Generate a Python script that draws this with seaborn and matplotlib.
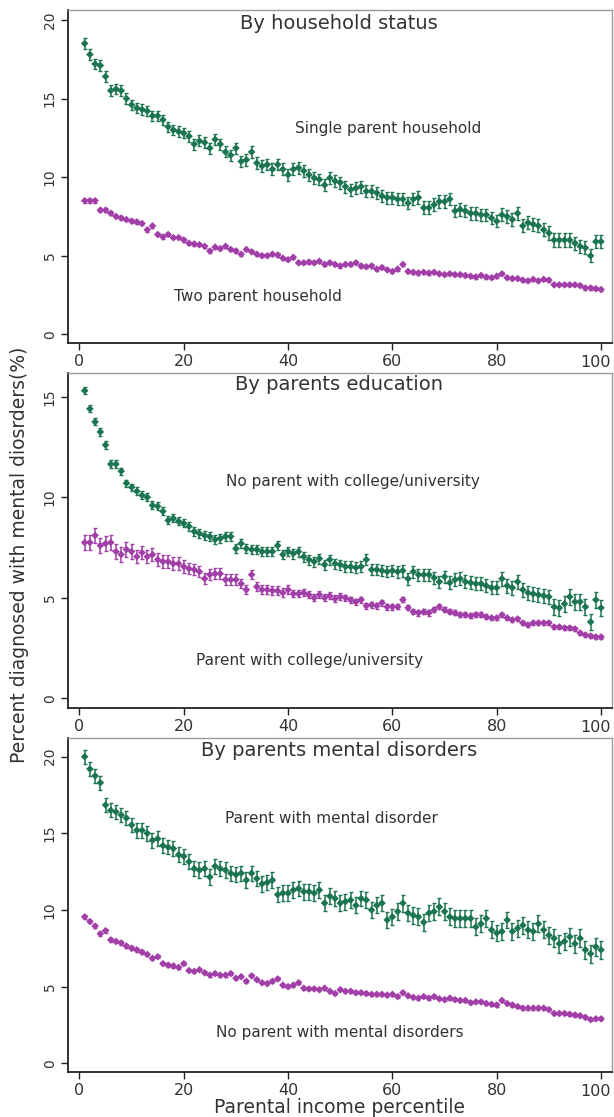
import numpy as np
import pandas as pd
import matplotlib
matplotlib.use("Agg")
import matplotlib.pyplot as plt
import seaborn as sns

sns.set_theme(style="white")
plt.rcParams['font.family'] = ['DejaVu Sans']

percentile = list(range(1, 101))

# Panel 1: by household status
single_parent = [18.5, 17.8, 17.2, 17.1, 16.4, 15.5, 15.6, 15.5, 15.0, 14.6,
                 14.4, 14.3, 14.2, 13.9, 13.9, 13.65, 13.2, 13.0, 12.9, 12.8,
                 12.6, 12.1, 12.3, 12.2, 11.85, 12.4, 12.1, 11.6, 11.4, 11.85,
                 11.0, 11.1, 11.6, 10.9, 10.7, 10.8, 10.5, 10.8, 10.5, 10.15,
                 10.5, 10.6, 10.4, 10.15, 9.95, 9.85, 9.5, 9.95, 9.75, 9.65,
                 9.4, 9.2, 9.3, 9.4, 9.1, 9.1, 9.0, 8.8, 8.7, 8.7,
                 8.6, 8.6, 8.35, 8.6, 8.7, 8.05, 8.05, 8.25, 8.45, 8.45,
                 8.6, 7.85, 7.95, 7.85, 7.7, 7.7, 7.6, 7.6, 7.4, 7.2,
                 7.6, 7.5, 7.3, 7.7, 6.9, 7.1, 7.0, 6.9, 6.65, 6.45,
                 6.0, 6.0, 6.0, 6.0, 5.8, 5.6, 5.5, 5.0, 5.9, 5.9]
two_parent = [8.5, 8.5, 8.5, 7.9, 7.9, 7.7, 7.5, 7.4, 7.3, 7.2,
              7.15, 7.05, 6.65, 6.9, 6.35, 6.2, 6.35, 6.15, 6.15, 6.0,
              5.8, 5.75, 5.7, 5.6, 5.3, 5.55, 5.45, 5.6, 5.4, 5.3,
              5.1, 5.4, 5.25, 5.1, 5.0, 5.0, 5.1, 5.05, 4.85, 4.75,
              4.9, 4.55, 4.55, 4.6, 4.55, 4.65, 4.45, 4.55, 4.45, 4.35,
              4.45, 4.45, 4.55, 4.35, 4.3, 4.35, 4.15, 4.25, 4.1, 4.0,
              4.15, 4.45, 4.0, 3.95, 3.9, 3.95, 3.9, 3.95, 3.85, 3.8,
              3.85, 3.8, 3.8, 3.75, 3.7, 3.65, 3.75, 3.65, 3.6, 3.7,
              3.85, 3.6, 3.55, 3.55, 3.45, 3.4, 3.5, 3.4, 3.5, 3.45,
              3.15, 3.15, 3.15, 3.15, 3.15, 3.1, 2.95, 2.95, 2.9, 2.85]

# Panel 2: by parents education
no_college = [15.3, 14.4, 13.75, 13.25, 12.6, 11.65, 11.65, 11.3, 10.7, 10.5,
              10.3, 10.1, 10.0, 9.6, 9.55, 9.3, 8.85, 8.95, 8.8, 8.7,
              8.55, 8.3, 8.2, 8.1, 8.05, 7.9, 7.95, 8.05, 8.05, 7.45,
              7.7, 7.45, 7.4, 7.4, 7.3, 7.3, 7.3, 7.6, 7.15, 7.3,
              7.2, 7.3, 7.05, 6.9, 6.8, 6.95, 6.65, 6.9, 6.7, 6.65,
              6.55, 6.55, 6.5, 6.55, 6.9, 6.4, 6.4, 6.35, 6.3, 6.35,
              6.3, 6.35, 5.95, 6.3, 6.15, 6.15, 6.15, 6.0, 5.8, 6.05,
              5.75, 5.9, 5.95, 5.8, 5.75, 5.7, 5.7, 5.6, 5.5, 5.5,
              5.95, 5.6, 5.5, 5.8, 5.4, 5.25, 5.2, 5.15, 5.1, 5.05,
              4.55, 4.5, 4.7, 5.05, 4.8, 4.8, 4.55, 3.8, 4.9, 4.5]
college = [7.75, 7.75, 8.1, 7.6, 7.7, 7.75, 7.3, 7.15, 7.4, 7.3,
           7.05, 7.25, 7.05, 7.15, 6.9, 6.8, 6.8, 6.7, 6.7, 6.55,
           6.45, 6.4, 6.3, 5.95, 6.15, 6.2, 6.2, 5.9, 5.9, 5.9,
           5.7, 5.4, 6.15, 5.55, 5.4, 5.4, 5.35, 5.35, 5.25, 5.4,
           5.2, 5.2, 5.25, 5.15, 5.0, 5.15, 5.0, 5.1, 4.95, 5.05,
           5.0, 4.9, 4.8, 4.9, 4.6, 4.65, 4.6, 4.75, 4.55, 4.55,
           4.55, 4.9, 4.5, 4.3, 4.25, 4.3, 4.25, 4.4, 4.55, 4.4,
           4.3, 4.25, 4.15, 4.15, 4.1, 4.15, 4.15, 4.05, 4.0, 4.0,
           4.15, 4.0, 3.9, 3.95, 3.75, 3.65, 3.75, 3.75, 3.75, 3.75,
           3.55, 3.55, 3.5, 3.5, 3.45, 3.25, 3.15, 3.1, 3.05, 3.05]

# Panel 3: by parents mental disorders
parent_md = [20.0, 19.2, 18.75, 18.3, 16.85, 16.5, 16.4, 16.2, 16.0, 15.55,
             15.2, 15.2, 15.0, 14.55, 14.65, 14.2, 14.1, 14.0, 13.6, 13.5,
             13.15, 12.7, 12.6, 12.7, 12.15, 12.85, 12.7, 12.6, 12.4, 12.3,
             12.4, 11.95, 12.4, 12.05, 11.7, 11.8, 11.95, 11.0, 11.1, 11.1,
             11.3, 11.4, 11.2, 11.2, 11.1, 11.3, 10.45, 10.9, 10.75, 10.45,
             10.55, 10.65, 10.3, 10.75, 10.65, 10.0, 10.3, 10.45, 9.35, 9.55,
             9.9, 10.45, 9.8, 9.65, 9.55, 9.2, 9.8, 9.9, 10.2, 9.9,
             9.55, 9.45, 9.45, 9.45, 9.45, 8.9, 9.1, 9.45, 8.7, 8.5,
             8.6, 9.35, 8.6, 8.8, 9.0, 8.7, 8.6, 9.1, 8.7, 8.35,
             8.15, 7.8, 7.95, 8.25, 7.8, 8.15, 7.4, 7.15, 7.6, 7.4]
no_parent_md = [9.55, 9.25, 8.95, 8.45, 8.65, 8.05, 7.95, 7.85, 7.65, 7.5,
                7.4, 7.25, 7.1, 6.85, 6.95, 6.5, 6.4, 6.35, 6.25, 6.5,
                6.05, 6.0, 6.1, 5.9, 5.75, 5.85, 5.75, 5.75, 5.85, 5.55,
                5.65, 5.35, 5.7, 5.45, 5.25, 5.2, 5.35, 5.5, 5.1, 5.0,
                5.1, 5.25, 4.9, 4.85, 4.85, 4.8, 4.9, 4.7, 4.55, 4.8,
                4.7, 4.7, 4.6, 4.6, 4.55, 4.5, 4.5, 4.5, 4.45, 4.5,
                4.35, 4.6, 4.4, 4.3, 4.25, 4.35, 4.25, 4.35, 4.2, 4.15,
                4.25, 4.15, 4.1, 4.1, 3.95, 4.0, 4.0, 3.9, 3.85, 3.8,
                4.1, 3.9, 3.8, 3.7, 3.6, 3.6, 3.6, 3.6, 3.6, 3.5,
                3.25, 3.25, 3.25, 3.2, 3.15, 3.1, 3.0, 2.85, 2.9, 2.9]

# Half-widths of the confidence intervals, read per decile of income
single_err = [0.33, 0.33, 0.35, 0.37, 0.38, 0.38, 0.4, 0.4, 0.42, 0.42]
two_err = [0.12, 0.11, 0.1, 0.1, 0.1, 0.1, 0.1, 0.1, 0.1, 0.1]
nocol_err = [0.18, 0.2, 0.22, 0.24, 0.25, 0.27, 0.3, 0.32, 0.35, 0.4]
col_err = [0.38, 0.33, 0.28, 0.22, 0.18, 0.15, 0.13, 0.12, 0.1, 0.1]
pmd_err = [0.45, 0.48, 0.5, 0.5, 0.52, 0.52, 0.55, 0.55, 0.55, 0.58]
npmd_err = [0.12, 0.11, 0.1, 0.1, 0.1, 0.1, 0.1, 0.1, 0.1, 0.1]

titles = ["By household status", "By parents education", "By parents mental disorders"]
labels_high = ["Single parent household", "No parent with college/university", "Parent with mental disorder"]
labels_low = ["Two parent household", "Parent with college/university", "No parent with mental disorders"]
yticks = [[0, 5, 10, 15, 20], [0, 5, 10, 15], [0, 5, 10, 15, 20]]
xticks = [0, 20, 40, 60, 80, 100]

GREEN = "#1b7550"
PURPLE = "#a23ea8"
TEXT = "#333333"

panels = [
    (single_parent, single_err, two_parent, two_err),
    (no_college, nocol_err, college, col_err),
    (parent_md, pmd_err, no_parent_md, npmd_err),
]
ylims = [(-0.55, 20.63), (-0.48, 16.18), (-0.57, 21.22)]
high_pos = [(59.2, 13.1), (52.5, 10.8), (48.4, 16.0)]
low_pos = [(34.3, 2.4), (44.2, 1.9), (50.0, 2.0)]
title_y = [19.8, 15.6, 20.4]

W, H = 614, 1117
fig = plt.figure(figsize=(W / 100, H / 100), dpi=100)
frames = [(10, 343), (373, 708), (738, 1072)]
axes = []
for top, bot in frames:
    ax = fig.add_axes([68 / W, 1 - bot / H, 544 / W, (bot - top) / H])
    axes.append(ax)

for i, ax in enumerate(axes):
    hi, hi_err, lo, lo_err = panels[i]
    df = pd.DataFrame({
        "pct": percentile * 2,
        "val": hi + lo,
        "err": list(np.repeat(hi_err, 10)) + list(np.repeat(lo_err, 10)),
        "grp": ["high"] * 100 + ["low"] * 100,
    })
    pal = {"high": GREEN, "low": PURPLE}
    for g, sub in df.groupby("grp"):
        ax.errorbar(sub["pct"], sub["val"], yerr=sub["err"], fmt="none",
                    ecolor=pal[g], elinewidth=1.1, capsize=1.6, capthick=1.0,
                    zorder=2)
    sns.scatterplot(data=df, x="pct", y="val", hue="grp", palette=pal,
                    marker="D", s=15, linewidth=0, legend=False, ax=ax, zorder=3)

    ax.set_xlim(-2.2, 102.1)
    ax.set_ylim(*ylims[i])
    ax.set_xticks(xticks)
    ax.set_yticks(yticks[i])
    # last label ("100") is drawn separately, nudged left to stay in the figure
    ax.set_xticklabels([str(t) for t in xticks[:-1]] + [""], fontsize=11.5, color=TEXT)
    ax.annotate(str(xticks[-1]), xy=(xticks[-1], 0),
                xycoords=("data", "axes fraction"),
                xytext=(-4, -8.5), textcoords="offset points",
                ha="center", va="top", fontsize=11.5, color=TEXT,
                annotation_clip=False)
    ax.set_yticklabels([str(t) for t in yticks[i]], fontsize=10, color=TEXT,
                       rotation=90, va="center")
    ax.tick_params(axis="both", direction="out", length=5, width=1.0,
                   color="#222222", left=True, bottom=True, pad=3)
    ax.set_xlabel("")
    ax.set_ylabel("")
    for s in ["left", "bottom"]:
        ax.spines[s].set_color("#222222")
        ax.spines[s].set_linewidth(1.3)
    for s in ["top", "right"]:
        ax.spines[s].set_color("#9a9a9a")
        ax.spines[s].set_linewidth(1.0)

    ax.text(49.8, title_y[i], titles[i], ha="center", va="center",
            fontsize=14, color=TEXT)
    ax.text(*high_pos[i], labels_high[i], ha="center", va="center",
            fontsize=11, color=TEXT)
    ax.text(*low_pos[i], labels_low[i], ha="center", va="center",
            fontsize=11, color=TEXT)

axes[2].set_xlabel("Parental income percentile", fontsize=13.5, color=TEXT,
                   labelpad=0)
fig.text(20 / W, 1 - 555 / H, "Percent diagnosed with mental diosrders(%)",
         rotation=90, ha="center", va="center", fontsize=13.5, color=TEXT)

fig.savefig("out.png", dpi=100, facecolor="white")
